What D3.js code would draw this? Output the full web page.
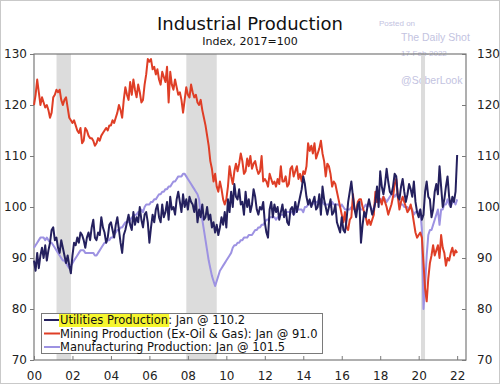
<!DOCTYPE html>
<html>
<head>
<meta charset="utf-8">
<script src="https://d3js.org/d3.v7.min.js"></script>
<style>
  body { margin: 0; background: #fff; }
  svg { display: block; font-family: "DejaVu Sans", Verdana, sans-serif; }
</style>
</head>
<body>
<svg id="graph" width="500" height="384"></svg>
<script>
  var svg = d3.select("#graph");

  // monthly values, Jan 2000 .. Jan 2022 (index, 2017=100)
  var utilities = [
    89.5, 87.5, 91.0, 88.0, 90.5, 92.0, 90.0, 92.5, 89.5, 91.5, 93.0, 95.5,
    96.0, 93.5, 94.0, 92.0, 91.0, 93.5, 92.0, 90.5, 89.0, 90.5, 88.5, 87.0,
    90.5, 93.0, 92.5, 94.0, 93.0, 95.0, 94.5, 93.5, 92.0, 94.0, 95.0, 93.5,
    96.0, 97.5, 94.0, 93.5, 95.0, 94.5, 98.0, 96.0, 95.0, 93.0, 94.0, 96.5,
    97.0, 95.5, 94.0, 96.5, 98.0, 95.5, 93.0, 91.0, 94.5, 95.5, 97.0, 98.5,
    96.5, 95.5, 99.0, 96.5, 98.0, 97.0, 100.0, 97.5, 96.0, 98.5, 99.0, 97.0,
    93.0, 96.0, 98.5, 97.0, 99.5, 100.5, 98.0, 97.0, 100.5, 98.0, 99.0, 101.0,
    97.5, 102.0, 99.5, 100.0, 98.5, 101.5, 103.0, 101.0, 99.0, 102.5, 100.0, 101.5,
    99.5, 102.0, 101.0, 100.5, 99.0, 101.5, 97.0, 99.5, 98.0, 100.5, 97.5, 98.0,
    100.0, 97.5, 98.5, 96.0, 97.0, 95.0, 96.5, 94.5, 96.0, 98.0, 96.5, 99.0,
    96.0, 101.5, 99.0, 103.0, 100.0, 104.5, 102.0, 101.5, 103.5, 100.5, 101.0, 98.5,
    103.0, 100.0, 101.5, 99.0, 100.5, 103.5, 102.0, 99.5, 98.5, 100.0, 99.5, 101.0,
    97.0, 95.0, 94.0, 99.5, 101.0, 98.0, 100.5, 99.0, 100.0, 97.5, 99.0, 100.5,
    98.0, 99.5, 97.0, 96.5, 99.5, 100.0, 98.5, 101.0, 99.0, 100.5, 102.0, 103.5,
    106.0, 104.5, 102.0, 100.5, 101.5, 100.0, 101.0, 102.0, 99.5, 100.0, 102.5, 98.5,
    104.0, 101.5, 100.0, 98.5, 100.0, 101.5, 98.5, 99.0, 100.5, 97.0, 96.0, 95.0,
    98.0, 95.5, 95.0, 97.5, 101.0, 103.0, 105.0, 102.0, 99.5, 98.0, 100.5, 101.0,
    93.0, 96.5, 99.0, 98.0, 100.0, 101.5, 100.0, 98.5, 99.5, 101.0, 104.0, 100.0,
    107.0, 104.0, 102.5, 104.5, 107.5, 105.0, 103.0, 102.5, 104.0, 106.5, 106.0, 102.0,
    101.5, 104.0, 105.5, 103.0, 101.0, 102.5, 104.5, 103.5, 102.0, 105.0, 101.0, 99.0,
    98.0, 99.5, 97.5, 98.5, 103.0, 105.0, 102.0, 101.5, 98.0, 99.5, 103.0, 104.5,
    102.5, 108.0, 104.0, 100.0, 101.5, 104.0, 106.0, 102.0, 100.0, 102.0, 101.0, 103.0,
    110.2
  ];
  var mining = [
    120.0, 122.0, 125.0, 122.5, 120.0, 121.5, 120.5, 119.5, 120.0, 119.0, 117.5, 118.5,
    121.5, 122.0, 123.0, 122.5, 123.0, 121.0, 120.0, 121.0, 121.5, 119.5, 117.5, 117.0,
    116.5, 117.0, 116.0, 115.0, 114.5, 115.5, 112.5, 113.0, 115.5, 115.0, 114.0, 113.5,
    113.5, 113.0, 112.0, 112.5, 113.5, 113.0, 114.0, 114.5, 115.0, 115.5, 115.0, 116.0,
    116.0, 117.0, 116.5, 117.5, 118.5, 120.0, 119.0, 117.5, 121.0, 123.5, 122.0, 121.0,
    124.5, 122.0, 125.0, 123.0, 121.5, 124.0, 122.5, 120.5, 121.0, 124.0, 126.0, 129.0,
    128.5, 129.0, 127.0, 127.5, 126.0, 127.0, 125.0, 124.0, 126.5, 125.5, 124.5, 127.5,
    120.5, 126.5, 124.0, 123.0, 125.0, 123.5, 122.0, 122.5, 121.0, 118.5, 121.0, 123.5,
    122.0, 121.5, 124.0, 122.5, 121.5, 122.0, 120.5, 120.0, 121.0, 119.0, 117.5, 116.0,
    114.0, 112.0, 109.0, 107.5, 105.0, 106.5, 104.0, 103.0, 105.0, 103.5, 101.5, 100.5,
    101.5, 104.0, 108.0, 106.0, 104.5, 107.0, 108.5, 107.0, 108.5, 110.5, 109.0, 106.5,
    107.0, 109.5, 108.0, 110.0, 107.5, 108.5, 109.0, 107.5, 106.5, 107.0, 110.0, 105.0,
    105.5, 105.0, 104.0, 106.5, 105.5, 104.5, 105.0, 104.0, 105.5, 104.5, 108.0, 105.0,
    105.0, 106.0, 104.0, 104.5, 107.5, 108.0, 106.0, 107.0, 108.0, 105.5, 106.5, 105.0,
    107.0, 106.5, 108.0, 112.5, 111.0, 112.0, 110.5, 112.5, 109.5, 110.5, 111.5, 113.0,
    110.5, 109.0, 106.0, 108.5, 108.0, 106.5, 104.0, 105.0, 104.5, 103.0, 101.5, 100.0,
    98.5, 97.0, 99.0, 96.0, 95.5, 97.5, 98.0, 102.5, 99.5, 99.0, 101.0, 101.5,
    101.5, 100.0, 99.0, 98.0, 96.5, 97.5, 96.5, 97.5, 98.5, 103.0, 101.0, 102.0,
    101.5, 100.5, 102.0, 101.0, 100.0, 98.5, 99.5, 100.5, 102.0, 104.5, 105.5, 102.0,
    99.5, 101.0, 102.0, 101.0, 100.0, 99.0, 99.5, 100.5, 99.0, 97.0, 95.0, 94.0,
    94.5, 95.0, 94.0, 89.0, 84.0, 81.5, 86.0, 89.0, 90.5, 92.5, 90.5, 91.5,
    92.5, 90.0, 94.5, 92.0, 91.0, 88.5, 90.0, 89.5, 91.0, 92.0, 90.5, 91.5,
    91.0
  ];
  var manufacturing = [
    92.0, 92.5, 93.0, 93.5, 94.0, 94.0, 94.0, 93.5, 94.0, 93.5, 93.0, 93.0,
    92.5, 92.0, 91.5, 91.0, 90.5, 90.0, 89.5, 89.5, 89.0, 88.5, 88.0, 88.5,
    89.0, 89.5, 90.0, 90.5, 91.0, 91.5, 91.5, 91.5, 91.0, 91.0, 91.0, 91.0,
    91.0, 91.0, 90.5, 90.5, 91.0, 91.5, 92.0, 92.5, 93.0, 93.0, 93.5, 93.5,
    94.0, 94.0, 94.5, 95.0, 95.5, 95.5, 96.0, 96.0, 96.5, 97.0, 97.0, 97.0,
    97.5, 98.0, 98.0, 98.5, 98.5, 99.0, 99.0, 99.5, 99.0, 100.0, 100.5, 100.5,
    100.5, 101.0, 101.0, 101.5, 101.5, 102.0, 102.5, 102.5, 103.0, 103.0, 103.5, 103.5,
    104.0, 104.0, 104.5, 105.0, 105.0, 105.5, 106.0, 106.0, 106.0, 106.5, 106.5, 106.0,
    105.5, 105.0, 104.5, 104.0, 103.5, 103.0, 102.5, 101.5, 98.5, 97.5, 95.5, 93.5,
    91.5, 89.5, 88.0, 86.5, 85.5, 84.5, 85.5, 86.5, 87.5, 88.0, 88.5, 89.0,
    89.5, 90.0, 90.5, 91.0, 92.0, 92.5, 92.5, 93.0, 93.0, 93.5, 93.5, 94.0,
    94.0, 94.0, 94.5, 94.5, 94.5, 95.0, 95.5, 95.5, 96.0, 96.0, 96.5, 96.5,
    97.0, 97.5, 97.5, 98.0, 98.0, 98.0, 98.0, 97.5, 98.0, 98.0, 98.5, 98.5,
    98.5, 99.0, 99.0, 99.0, 99.0, 99.0, 98.5, 99.0, 99.5, 99.5, 99.5, 99.5,
    99.0, 100.0, 100.0, 100.5, 100.5, 100.5, 101.0, 100.5, 101.0, 101.0, 101.5, 101.5,
    101.0, 100.5, 100.5, 100.5, 100.5, 100.0, 101.0, 100.5, 100.5, 100.5, 100.5, 100.0,
    100.5, 100.0, 99.5, 99.5, 99.5, 99.5, 100.0, 100.0, 99.5, 99.5, 99.5, 100.0,
    99.5, 99.5, 100.0, 100.5, 100.0, 100.5, 100.0, 99.5, 99.5, 101.0, 101.0, 101.5,
    101.0, 101.5, 102.0, 101.5, 101.0, 101.5, 102.0, 102.5, 102.5, 102.0, 102.5, 102.5,
    101.0, 100.5, 100.5, 100.0, 100.0, 100.0, 99.5, 100.0, 99.5, 98.5, 99.0, 99.0,
    99.0, 99.5, 95.5, 80.0, 84.5, 90.5, 94.5, 95.5, 95.5, 96.5, 97.5, 98.5,
    99.5, 96.5, 99.5, 99.5, 100.5, 100.5, 101.5, 100.5, 100.0, 101.0, 101.0, 100.5,
    101.5
  ];
  var recessions = [[2001.17, 2001.92], [2007.92, 2009.5], [2020.12, 2020.33]];
  var yTicks = [70, 80, 90, 100, 110, 120, 130];
  var xTicks = [2000, 2002, 2004, 2006, 2008, 2010, 2012, 2014, 2016, 2018, 2020, 2022];
  var legendLabels = ["Utilities Production", ": Jan @ 110.2",
                      "Mining Production (Ex-Oil & Gas): Jan @ 91.0",
                      "Manufacturing Production: Jan @ 101.5"];

  var colors = {util: "#24205e", mining: "#df3e26", mfg: "#9d92e2"};
  var padL = 34, padR = 466, padT = 54, padB = 360;

  var x = d3.scaleLinear().domain([2000, 2022.46]).range([padL, padR]);
  var y = d3.scaleLinear().domain([70, 130]).range([padB, padT]);

  // outer frame
  svg.append("rect").attr("x", 0.5).attr("y", 0.5).attr("width", 499).attr("height", 383)
    .attr("fill", "none").attr("stroke", "#c9c9c9");

  // title + watermark
  svg.append("text").text("Industrial Production")
    .attr("x", 250).attr("y", 30).attr("text-anchor", "middle")
    .style("font-size", "18px").attr("fill", "#111");
  svg.append("text").text("Index, 2017=100")
    .attr("x", 250).attr("y", 45).attr("text-anchor", "middle")
    .style("font-size", "11px").attr("fill", "#111");

  var wm = svg.append("g").attr("fill", "#c3c3df").style("font-family", "Arial, 'Liberation Sans', sans-serif");
  wm.append("text").text("Posted on").attr("x", 379).attr("y", 26).style("font-size", "8px");
  wm.append("text").text("The Daily Shot").attr("x", 401).attr("y", 41).style("font-size", "10.5px");
  wm.append("text").text("17-Feb-2022").attr("x", 401).attr("y", 56).style("font-size", "8px");
  wm.append("text").text("@SoberLook").attr("x", 401).attr("y", 84).style("font-size", "10.5px");

  // recession shading
  svg.selectAll(".rec").data(recessions).enter().append("rect")
    .attr("class", "rec")
    .attr("x", function(d) { return x(d[0]); })
    .attr("width", function(d) { return x(d[1]) - x(d[0]); })
    .attr("y", padT).attr("height", padB - padT)
    .attr("fill", "#dcdcdc");

  // axes
  var axisColor = "#7a7a7a";
  var yl = svg.append("g").attr("transform", "translate(" + padL + ",0)")
    .call(d3.axisLeft(y).tickValues(yTicks).tickSize(4).tickPadding(3));
  var yr = svg.append("g").attr("transform", "translate(" + padR + ",0)")
    .call(d3.axisRight(y).tickValues(yTicks).tickSize(-4).tickPadding(11));
  var xb = svg.append("g").attr("transform", "translate(0," + padB + ")")
    .call(d3.axisBottom(x).tickValues(xTicks).tickSize(-4).tickPadding(11)
      .tickFormat(function(d) { return String(d).slice(2); }));
  [yl, yr, xb].forEach(function(g) {
    g.select(".domain").remove();
    g.selectAll("line").attr("stroke", axisColor);
    g.selectAll("text").style("font-size", "12px").style("font-family", "DejaVu Sans, sans-serif").attr("fill", "#222");
  });

  svg.append("rect").attr("x", padL).attr("y", padT)
    .attr("width", padR - padL).attr("height", padB - padT)
    .attr("fill", "none").attr("stroke", axisColor).attr("stroke-width", 1.2);

  // lines
  var line = d3.line()
    .x(function(d, i) { return x(2000 + i / 12); })
    .y(function(d) { return y(d); });

  [[manufacturing, colors.mfg], [mining, colors.mining], [utilities, colors.util]].forEach(function(s) {
    svg.append("path").datum(s[0])
      .attr("d", line)
      .attr("fill", "none")
      .attr("stroke", s[1])
      .attr("stroke-width", 2)
      .attr("stroke-linejoin", "round");
  });

  // legend
  var leg = svg.append("g");
  leg.append("rect").attr("x", 41.5).attr("y", 313.5).attr("width", 281).attr("height", 40)
    .attr("fill", "#fff").attr("stroke", axisColor);

  var rows = [[colors.util, 324], [colors.mining, 337.5], [colors.mfg, 351]];
  rows.forEach(function(r) {
    leg.append("line").attr("x1", 44).attr("x2", 60)
      .attr("y1", r[1] - 4).attr("y2", r[1] - 4)
      .attr("stroke", r[0]).attr("stroke-width", 2);
  });

  var t0 = leg.append("text").attr("x", 60).attr("y", 324).style("font-size", "11.5px").attr("fill", "#111");
  var hl = t0.append("tspan").text(legendLabels[0]);
  t0.append("tspan").text(legendLabels[1]);
  var hw = hl.node().getComputedTextLength();
  leg.insert("rect", "text").attr("x", 59).attr("y", 314).attr("width", hw + 2).attr("height", 13)
    .attr("fill", "#f6f62e");

  leg.append("text").text(legendLabels[2]).attr("x", 60).attr("y", 337.5)
    .style("font-size", "11.5px").attr("fill", "#111");
  leg.append("text").text(legendLabels[3]).attr("x", 60).attr("y", 351)
    .style("font-size", "11.5px").attr("fill", "#111");
</script>
</body>
</html>
